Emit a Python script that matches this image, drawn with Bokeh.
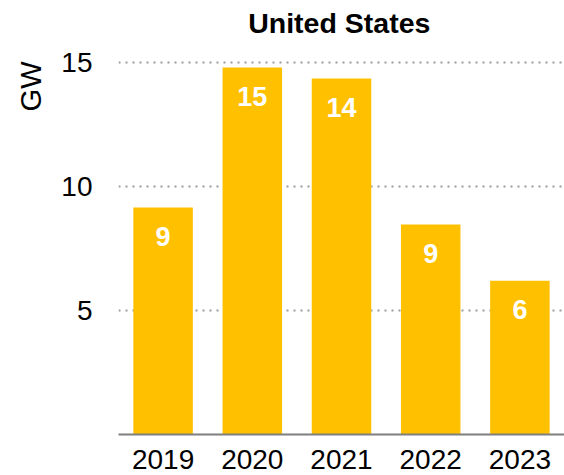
from bokeh.plotting import figure
from bokeh.models import ColumnDataSource, FactorRange, Range1d, FixedTicker, Label, LabelSet, Title
from bokeh.core.properties import value
from bokeh.embed import file_html
from bokeh.resources import INLINE

years = ["2019", "2020", "2021", "2022", "2023"]
capacity_gw = [9.15, 14.8, 14.35, 8.47, 6.2]
labels = ["9", "15", "14", "9", "6"]
y_ticks = [5, 10, 15]
title_text = "United States"
unit_text = "GW"

FONT = "Liberation Sans"
BAR = "#FFC000"

src = ColumnDataSource(dict(x=years, top=capacity_gw, label=labels))

X_END = 4.95
Y_END = 17.5

p = figure(width=564, height=475, output_backend="svg", toolbar_location=None,
           x_range=FactorRange(factors=years, start=0, end=X_END),
           y_range=Range1d(0, Y_END),
           min_border_left=118, min_border_right=0, min_border_top=0, min_border_bottom=41)

p.vbar(x="x", top="top", width=0.667, source=src, fill_color=BAR, line_color=None)

p.add_layout(LabelSet(x="x", y="top", text="label", source=src, y_offset=-29,
                      text_align="center", text_baseline="middle",
                      text_color="white", text_font=value(FONT), text_font_size="27px",
                      text_font_style="bold"))

# chart title, centred over the plotting area
p.add_layout(Label(x=X_END / 2, y=16.6, text=title_text, text_align="center",
                   text_baseline="alphabetic", text_font=FONT, text_font_size="28.5px",
                   text_font_style="bold", text_color="#000000"))

# unit label, rotated, at the top-left
p.add_layout(Title(text=unit_text, align="right", offset=61, standoff=23,
                   text_font=FONT, text_font_size="29px", text_font_style="normal",
                   text_color="#000000"), "left")

p.outline_line_color = None
p.background_fill_color = "white"
p.border_fill_color = "white"

p.xgrid.grid_line_color = None
p.ygrid.ticker = FixedTicker(ticks=y_ticks)
p.ygrid.grid_line_color = "#9a9a9a"
p.ygrid.grid_line_width = 2
p.ygrid.grid_line_dash = "2 5"

p.yaxis.ticker = FixedTicker(ticks=y_ticks)
p.yaxis.axis_line_color = None
p.yaxis.major_tick_line_color = None
p.yaxis.minor_tick_line_color = None
p.yaxis.major_tick_out = 0
p.yaxis.major_label_standoff = 26
p.yaxis.major_label_text_font = FONT
p.yaxis.major_label_text_font_size = "28px"
p.yaxis.major_label_text_color = "#000000"

p.xaxis.axis_line_color = "#7f7f7f"
p.xaxis.axis_line_width = 2
p.xaxis.major_tick_line_color = None
p.xaxis.minor_tick_line_color = None
p.xaxis.major_tick_out = 0
p.xaxis.major_label_standoff = 15
p.xaxis.major_label_text_font = FONT
p.xaxis.major_label_text_font_size = "28px"
p.xaxis.major_label_text_color = "#000000"

open("out.html", "w").write(file_html(p, INLINE))
